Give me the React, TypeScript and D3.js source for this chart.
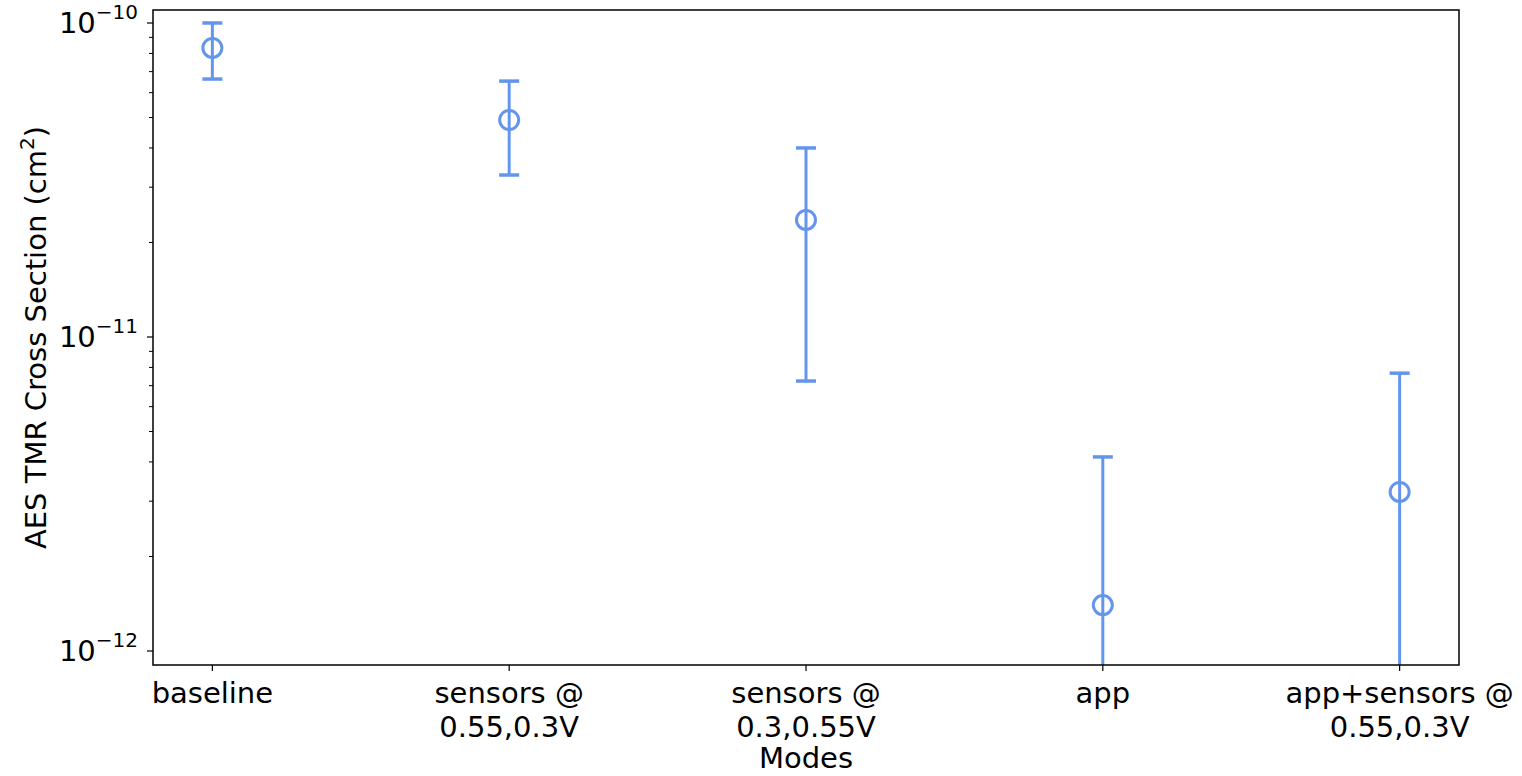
import React from "react";
import * as d3 from "d3";

const categories = ["baseline", "sensors @\n0.55,0.3V", "sensors @\n0.3,0.55V", "app", "app+sensors @\n0.55,0.3V"];
const values = [8.33e-11, 4.91e-11, 2.36e-11, 1.40e-12, 3.21e-12];
const upperBounds = [1.0e-10, 6.53e-11, 4.0e-11, 4.15e-12, 7.67e-12];
const lowerBounds = [6.63e-11, 3.28e-11, 7.24e-12, 1e-14, 1e-14];
const yTickExps = [-10, -11, -12];

const W = 1522, H = 776;
const M = { left: 153, right: 1459, top: 10, bottom: 665 };
const COLOR = "#6495ED";
const FONT = "DejaVu Sans, sans-serif";

export default function App() {
  const x = d3.scaleLinear().domain([-0.2, 4.2]).range([M.left, M.right]);
  const y = d3.scaleLog().domain([Math.pow(10, -12.0446), Math.pow(10, -9.9586)]).range([M.bottom, M.top]);

  const minorTicks: number[] = [];
  for (let e = -13; e <= -10; e++) {
    for (let k = 2; k <= 9; k++) {
      const v = k * Math.pow(10, e);
      if (v >= y.domain()[0] && v <= y.domain()[1]) minorTicks.push(v);
    }
  }

  return (
    <svg width={W} height={H} style={{ position: "absolute", left: 0, top: 0 }} fontFamily={FONT}>
      <rect x={0} y={0} width={W} height={H} fill="white" />
      <defs>
        <clipPath id="plotclip">
          <rect x={M.left} y={M.top} width={M.right - M.left} height={M.bottom - M.top} />
        </clipPath>
      </defs>
      <g clipPath="url(#plotclip)">
        {values.map((v, i) => {
          const cx = x(i);
          const cy = y(v);
          const yu = y(upperBounds[i]);
          const yl = y(lowerBounds[i]);
          return (
            <g key={i} stroke={COLOR} strokeWidth={3} fill="none">
              <line x1={cx} x2={cx} y1={yu} y2={yl} />
              <line x1={cx - 10} x2={cx + 10} y1={yu} y2={yu} strokeWidth={3.5} />
              <line x1={cx - 10} x2={cx + 10} y1={yl} y2={yl} strokeWidth={3.5} />
              <circle cx={cx} cy={cy} r={9.5} strokeWidth={3} />
            </g>
          );
        })}
      </g>
      {/* spines */}
      <rect x={M.left} y={M.top} width={M.right - M.left} height={M.bottom - M.top} fill="none" stroke="black" strokeWidth={1.5} />
      {/* y ticks */}
      {minorTicks.map((v, i) => (
        <line key={"m" + i} x1={M.left - 4} x2={M.left} y1={y(v)} y2={y(v)} stroke="black" strokeWidth={1} />
      ))}
      {yTickExps.map((e) => {
        const yy = y(Math.pow(10, e));
        return (
          <g key={e}>
            <line x1={M.left - 6} x2={M.left} y1={yy} y2={yy} stroke="black" strokeWidth={1.2} />
            <text x={M.left - 15} y={yy + 10} textAnchor="end" fontSize={29} fill="black">
              10<tspan fontSize={20} dy={-14}>{"\u2212" + Math.abs(e)}</tspan>
            </text>
          </g>
        );
      })}
      {/* x ticks */}
      {categories.map((c, i) => {
        const xx = x(i);
        const lines = c.split("\n");
        return (
          <g key={i}>
            <line x1={xx} x2={xx} y1={M.bottom} y2={M.bottom + 6} stroke="black" strokeWidth={1.2} />
            <text textAnchor="middle" fontSize={29} fill="black">
              {lines.map((l, j) => (
                <tspan key={j} x={xx} y={M.bottom + 38 + j * 34}>{l}</tspan>
              ))}
            </text>
          </g>
        );
      })}
      <text x={(M.left + M.right) / 2} y={768} textAnchor="middle" fontSize={29} fill="black">Modes</text>
      <text transform={`translate(46, ${(M.top + M.bottom) / 2}) rotate(-90)`} textAnchor="middle" fontSize={29} fill="black">
        AES TMR Cross Section (cm<tspan fontSize={20} dy={-12}>2</tspan><tspan dy={12}>)</tspan>
      </text>
    </svg>
  );
}
